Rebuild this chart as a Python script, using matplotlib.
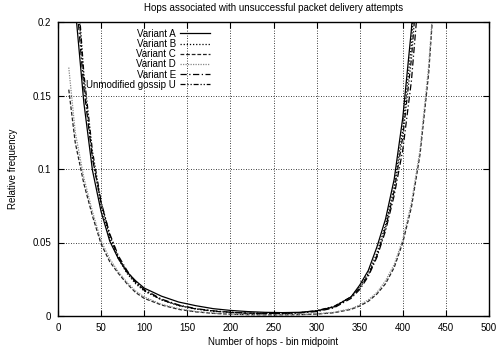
import matplotlib
matplotlib.use("Agg")
import matplotlib.pyplot as plt

plt.rcParams['font.family'] = ['Liberation Sans', 'DejaVu Sans']

title = "Hops associated with unsuccessful packet delivery attempts"
xlabel = "Number of hops - bin midpoint"
ylabel = "Relative frequency"

x_main = [12.5, 20, 30, 40, 50, 60, 70, 80, 90, 100, 120, 140, 160, 180, 200,
          220, 240, 260, 280, 300, 320, 340, 350, 360, 370, 380, 390, 400, 410, 420]
x_cd = [12.5, 20, 30, 40, 50, 60, 70, 80, 90, 100, 120, 140, 160, 180, 200,
        220, 240, 260, 280, 300, 320, 340, 350, 360, 370, 380, 390, 400, 410, 420, 430, 440]

variant_a = [0.27, 0.21, 0.145, 0.099, 0.071, 0.051, 0.039, 0.030, 0.024, 0.019, 0.0135, 0.0095,
             0.007, 0.005, 0.0038, 0.003, 0.0025, 0.0023, 0.0025, 0.0035, 0.0062, 0.013,
             0.021, 0.031, 0.047, 0.066, 0.093, 0.135, 0.195, 0.28]
variant_b = [0.33, 0.24, 0.16, 0.108, 0.075, 0.053, 0.039, 0.029, 0.022, 0.017, 0.011, 0.007,
             0.0048, 0.0034, 0.0025, 0.002, 0.0018, 0.0018, 0.0022, 0.0033, 0.006, 0.013,
             0.02, 0.029, 0.043, 0.062, 0.088, 0.127, 0.185, 0.27]
variant_c = [0.154, 0.118, 0.09, 0.068, 0.049, 0.037, 0.029, 0.022, 0.016, 0.012, 0.0075, 0.0045,
             0.0028, 0.0018, 0.0012, 0.0009, 0.0008, 0.0008, 0.0009, 0.0013, 0.0022, 0.0045,
             0.0068, 0.010, 0.015, 0.022, 0.033, 0.05, 0.074, 0.11, 0.165, 0.25]
variant_d = [0.169, 0.125, 0.094, 0.071, 0.051, 0.039, 0.030, 0.023, 0.017, 0.013, 0.008, 0.005,
             0.003, 0.002, 0.0013, 0.001, 0.0009, 0.0009, 0.001, 0.0015, 0.0025, 0.005,
             0.0075, 0.011, 0.016, 0.024, 0.035, 0.052, 0.077, 0.113, 0.17, 0.25]
variant_e = [0.3, 0.225, 0.155, 0.107, 0.077, 0.056, 0.041, 0.031, 0.023, 0.018, 0.0115, 0.0075,
             0.005, 0.0035, 0.0026, 0.002, 0.0018, 0.0018, 0.0021, 0.003, 0.0055, 0.012,
             0.018, 0.027, 0.04, 0.058, 0.082, 0.113, 0.16, 0.23]
unmod_u = [0.34, 0.245, 0.165, 0.112, 0.078, 0.055, 0.04, 0.03, 0.023, 0.0175, 0.011, 0.0072,
           0.0048, 0.0033, 0.0024, 0.0019, 0.0017, 0.0018, 0.0023, 0.0036, 0.0065, 0.013,
           0.019, 0.028, 0.041, 0.06, 0.085, 0.122, 0.175, 0.25]

labels = ["Variant A", "Variant B", "Variant C", "Variant D", "Variant E", "Unmodified gossip U"]
xticks = [0, 50, 100, 150, 200, 250, 300, 350, 400, 450, 500]
yticks = [0, 0.05, 0.1, 0.15, 0.2]
yticklabels = ["0", "0.05", "0.1", "0.15", "0.2"]

fig = plt.figure(figsize=(4.99, 3.52), dpi=100)
ax = fig.add_axes([58/499, 36/352, 431/499, 294/352])

lw = 0.9
ax.plot(x_main, variant_a, color='black', lw=lw, linestyle='-', label=labels[0])
ax.plot(x_main, variant_b, color='black', lw=lw, linestyle=(0, (1, 1.5)), label=labels[1])
ax.plot(x_cd, variant_c, color='#222222', lw=lw, linestyle=(0, (3, 1.5)), label=labels[2])
ax.plot(x_cd, variant_d, color='#888888', lw=lw, linestyle=(0, (1, 1)), label=labels[3])
ax.plot(x_main, variant_e, color='black', lw=lw, linestyle=(0, (5, 2, 1, 2)), label=labels[4])
ax.plot(x_main, unmod_u, color='black', lw=lw, linestyle=(0, (4, 1.5, 1, 1.5, 1, 1.5)), label=labels[5])

ax.set_xlim(0, 500)
ax.set_ylim(0, 0.2)
ax.set_xticks(xticks)
ax.set_yticks(yticks)
ax.set_yticklabels(yticklabels)
ax.tick_params(direction='in', length=4, width=0.8, top=True, right=True, labelsize=7, pad=5)
ax.grid(True, color='black', linestyle=(0, (1, 2)), linewidth=0.6)
for s in ax.spines.values():
    s.set_linewidth(1.0)

ax.set_title(title, fontsize=7, pad=8)
ax.set_xlabel(xlabel, fontsize=7, labelpad=3)
ax.set_ylabel(ylabel, fontsize=7, labelpad=10)

leg = ax.legend(loc='upper left', bbox_to_anchor=(0.05, 1.0), markerfirst=False, frameon=False,
                fontsize=7, handlelength=3.1, labelspacing=0.02, handletextpad=0.4,
                borderaxespad=0.3)

fig.savefig("out.png", dpi=100)
